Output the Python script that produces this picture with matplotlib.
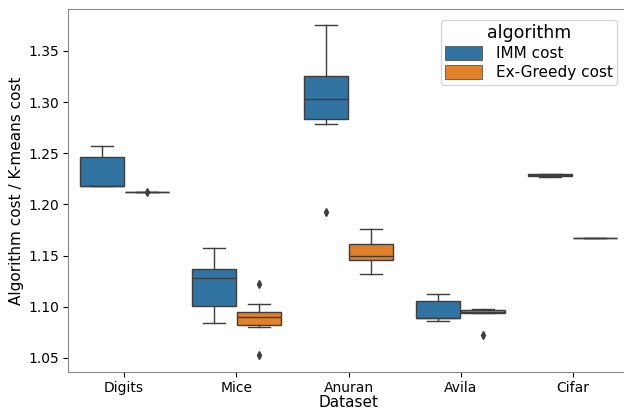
import numpy as np
import matplotlib.pyplot as plt
from matplotlib.patches import Patch

# Box statistics (one entry per dataset)
datasets = ['Digits', 'Mice', 'Anuran', 'Avila', 'Cifar']
algorithms = ['IMM cost', 'Ex-Greedy cost']
colors = ['#3274a1', '#e1812c']

imm_whislo = [1.218, 1.084, 1.2784, 1.0857, 1.2272]
imm_q1 = [1.218, 1.101, 1.2833, 1.0886, 1.2274]
imm_med = [1.2185, 1.128, 1.3028, 1.0892, 1.2285]
imm_q3 = [1.2465, 1.1374, 1.3256, 1.1056, 1.2297]
imm_whishi = [1.257, 1.157, 1.3756, 1.1127, 1.2300]
imm_fliers = [[], [], [1.1928], [], []]

eg_whislo = [1.212, 1.0805, 1.1325, 1.0935, 1.1674]
eg_q1 = [1.212, 1.0818, 1.1456, 1.0935, 1.1674]
eg_med = [1.212, 1.090, 1.150, 1.0951, 1.1674]
eg_q3 = [1.212, 1.0951, 1.1618, 1.0968, 1.1674]
eg_whishi = [1.212, 1.103, 1.1759, 1.0977, 1.1674]
eg_fliers = [[1.2118], [1.1225, 1.0528], [], [1.0724], []]

yticks = [1.05, 1.10, 1.15, 1.20, 1.25, 1.30, 1.35]


def make_stats(lo, q1, med, q3, hi, fl):
    return [dict(whislo=a, q1=b, med=c, q3=d, whishi=e, fliers=f)
            for a, b, c, d, e, f in zip(lo, q1, med, q3, hi, fl)]


fig = plt.figure(figsize=(6.24, 4.09), dpi=100)
ax = fig.add_axes([0.109, 0.0905, 0.899, 0.8875])

gray = '#3d3d3d'
x = np.arange(len(datasets))
groups = [
    make_stats(imm_whislo, imm_q1, imm_med, imm_q3, imm_whishi, imm_fliers),
    make_stats(eg_whislo, eg_q1, eg_med, eg_q3, eg_whishi, eg_fliers),
]
for j, (stats, col) in enumerate(zip(groups, colors)):
    ax.bxp(stats, positions=x + (j - 0.5) * 0.4, widths=0.392,
           patch_artist=True, manage_ticks=False,
           boxprops=dict(facecolor=col, edgecolor=gray, linewidth=1),
           medianprops=dict(color=gray, linewidth=1),
           whiskerprops=dict(color=gray, linewidth=1),
           capprops=dict(color=gray, linewidth=1),
           flierprops=dict(marker='d', markersize=4, markerfacecolor=gray,
                           markeredgecolor=gray))

ax.set_xlim(-0.5, 4.5)
ax.set_ylim(1.0363, 1.391)
ax.set_xticks(x)
ax.set_xticklabels(datasets)
ax.set_yticks(yticks)
ax.set_yticklabels([f'{t:.2f}' for t in yticks])
ax.tick_params(labelsize=10, pad=3)
ax.set_xlabel('Dataset', fontsize=11, labelpad=0)
ax.set_ylabel('Algorithm cost / K-means cost', fontsize=11, labelpad=3)
for s in ax.spines.values():
    s.set_color('#888888')

handles = [Patch(facecolor=c, edgecolor=gray, linewidth=0.5) for c in colors]
ax.legend(handles, algorithms, title='algorithm', fontsize=11,
          title_fontsize=12.5, loc='upper right', bbox_to_anchor=(0.987, 0.983),
          handlelength=2.4, handleheight=1.0, handletextpad=0.9,
          borderpad=0.3, labelspacing=0.25, borderaxespad=0.3)

fig.savefig('out.png', dpi=100)
